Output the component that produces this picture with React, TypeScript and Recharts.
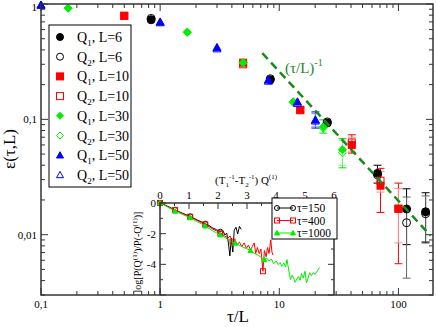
import React from 'react';
import { ScatterChart, Scatter, XAxis, YAxis, ErrorBar } from 'recharts';

const SERIF = '"Liberation Serif", "Times New Roman", serif';
const AXIS = '#333';

// main plot, log-log: [tau/L, eps, errLow, errHigh]
const q1L6 = [[0.84, 0.73], [8.4, 0.22], [25.3, 0.093], [66.7, 0.034, 0.028, 0.04], [117, 0.0167, 0.0082, 0.025], [169, 0.0158, 0.0085, 0.0231]];
const q2L6 = [[0.84, 0.75], [8.4, 0.225], [25.3, 0.095], [66.7, 0.033], [117, 0.0127, 0.0042, 0.0212], [169, 0.0152, 0.0087, 0.0217]];
const q1L10 = [[0.5, 0.79], [4.97, 0.31], [15, 0.121], [40.6, 0.06, 0.051, 0.0735], [70.7, 0.0266, 0.0156, 0.0376], [100, 0.0168, 0.0056, 0.028]];
const q2L10 = [[0.5, 0.79], [4.97, 0.3], [15, 0.12], [40.6, 0.063, 0.053, 0.07], [70.7, 0.0294, 0.0234, 0.0354], [100, 0.0168, 0.0085, 0.0251]];
const q1L30 = [[0.169, 0.92], [1.69, 0.57], [4.97, 0.31], [13.1, 0.142], [23.4, 0.086, 0.076, 0.099], [33.9, 0.0545, 0.038, 0.068]];
const q2L30 = [[0.169, 0.92], [1.69, 0.57], [4.97, 0.31], [13.1, 0.14], [23.4, 0.084], [33.9, 0.0513, 0.04, 0.066]];
const q1L50 = [[0.1, 0.98], [1.0, 0.7], [3.0, 0.42], [8.1, 0.22], [14.2, 0.142], [20.1, 0.099, 0.084, 0.116]];
const q2L50 = [[0.1, 0.98], [1.0, 0.69], [3.0, 0.41], [8.1, 0.215], [14.2, 0.138], [20.1, 0.097, 0.086, 0.112]];
const fitLine = [[7.2, 0.375], [186, 0.0098]];

const xTicks = [0.1, 0.2, 0.3, 0.4, 0.5, 0.6, 0.7, 0.8, 0.9, 1, 2, 3, 4, 5, 6, 7, 8, 9, 10, 20, 30, 40, 50, 60, 70, 80, 90, 100];
const yTicks = [0.003, 0.004, 0.005, 0.006, 0.007, 0.008, 0.009, 0.01, 0.02, 0.03, 0.04, 0.05, 0.06, 0.07, 0.08, 0.09, 0.1, 0.2, 0.3, 0.4, 0.5, 0.6, 0.7, 0.8, 0.9, 1];

// inset: log ratio vs (1/T1 - 1/T2) Q
const tau150 = [[0, 0], [0.13, -0.09], [0.26, -0.21], [0.39, -0.33], [0.52, -0.44], [0.65, -0.56], [0.78, -0.67], [0.91, -0.77], [1.04, -0.87], [1.17, -1.0], [1.3, -1.12], [1.43, -1.23], [1.56, -1.35], [1.69, -1.47], [1.82, -1.63], [1.95, -1.74], [2.08, -1.87], [2.16, -1.78], [2.24, -2.08], [2.3, -1.96], [2.36, -2.62], [2.41, -3.45], [2.46, -2.3], [2.51, -3.2], [2.56, -1.78], [2.62, -1.58], [2.68, -2.02], [2.74, -1.52], [2.8, -1.72]];
const tau150Marks = [[0, 0], [0.52, -0.44], [1.04, -0.87], [1.56, -1.35], [2.08, -1.87]];
const tau400 = [[0, 0], [0.13, -0.1], [0.26, -0.22], [0.39, -0.35], [0.52, -0.46], [0.65, -0.58], [0.78, -0.7], [0.91, -0.8], [1.04, -0.9], [1.17, -1.03], [1.3, -1.16], [1.43, -1.28], [1.56, -1.4], [1.69, -1.55], [1.82, -1.7], [1.95, -1.82], [2.08, -1.98], [2.21, -2.12], [2.34, -2.28], [2.42, -2.15], [2.5, -2.52], [2.58, -2.4], [2.66, -2.7], [2.74, -2.55], [2.82, -2.85], [2.9, -2.6], [2.98, -2.95], [3.05, -2.75], [3.12, -3.05], [3.18, -2.85], [3.25, -2.6], [3.3, -3.3], [3.36, -2.9], [3.42, -3.3], [3.48, -3.0], [3.55, -4.45], [3.6, -3.1], [3.66, -3.5], [3.71, -2.9], [3.76, -3.3], [3.82, -2.4], [3.86, -3.2], [3.9, -3.4]];
const tau400Marks = [[0, 0], [0.52, -0.46], [1.04, -0.9], [1.56, -1.4], [2.08, -1.98], [2.5, -2.52], [3.55, -4.45]];
const tau1000 = [[0, 0], [0.13, -0.12], [0.26, -0.26], [0.39, -0.4], [0.52, -0.53], [0.65, -0.64], [0.78, -0.75], [0.91, -0.86], [1.04, -0.96], [1.17, -1.1], [1.3, -1.23], [1.43, -1.37], [1.56, -1.5], [1.69, -1.66], [1.82, -1.81], [1.95, -1.95], [2.08, -2.08], [2.21, -2.22], [2.34, -2.37], [2.47, -2.5], [2.6, -2.62], [2.73, -2.75], [2.86, -2.88], [2.99, -2.98], [3.12, -3.1], [3.25, -3.28], [3.38, -3.4], [3.51, -3.58], [3.6, -3.7], [3.68, -3.58], [3.76, -3.78], [3.84, -3.66], [3.92, -3.96], [4.0, -3.78], [4.08, -4.02], [4.14, -3.88], [4.2, -4.12], [4.27, -3.92], [4.33, -4.18], [4.38, -3.7], [4.45, -4.5], [4.5, -5.0], [4.56, -4.7], [4.62, -4.95], [4.66, -5.17], [4.72, -4.95], [4.77, -4.8], [4.83, -5.05], [4.88, -4.6], [4.94, -4.9], [5.0, -4.45], [5.05, -5.2], [5.1, -4.95], [5.16, -4.55], [5.22, -4.75], [5.28, -4.55], [5.35, -4.65], [5.42, -4.45], [5.5, -4.2]];
const tau1000Marks = [[0, 0], [0.52, -0.53], [1.04, -0.96], [1.56, -1.5], [2.08, -2.08], [2.6, -2.62], [3.12, -3.1], [3.6, -3.7]];

const insetXTicks = [0, 0.5, 1, 1.5, 2, 2.5, 3, 3.5, 4, 4.5, 5, 5.5, 6];
const insetYTicks = [-6, -5, -4, -3, -2, -1, 0];
const insetYLabels = [0, -2, -4];

const W = 436;
const H = 327;
// plot rectangles (page pixels)
const MP = { left: 41, top: 4, right: 433, bottom: 295 };
const IP = { left: 160, top: 203, right: 334, bottom: 295 };
// axes get 1px of room (recharts skips zero-size axes)
const mainMargin = { top: MP.top, left: MP.left - 1, right: W - MP.right, bottom: H - MP.bottom - 1 };
const insetMargin = { top: IP.top - 1, left: IP.left - 1, right: W - IP.right, bottom: H - IP.bottom };

const toPts = (arr: number[][]) =>
  arr.map(([x, y, lo, hi]) => ({ x, y, err: lo == null ? undefined : [y - lo, hi - y] }));

const isDecade = (v: number) => Math.abs(Math.log10(v) - Math.round(Math.log10(v))) < 1e-9;
const fmtLog = (v: number) => String(v).replace('.', ',');

function drawMarker(kind: string, cx: number, cy: number, s: number, color: string, filled: boolean) {
  const fill = filled ? color : 'none';
  const h = s / 2;
  if (kind === 'circle') return <circle cx={cx} cy={cy} r={h} fill={fill} stroke={color} strokeWidth={1} />;
  if (kind === 'square') return <rect x={cx - h} y={cy - h} width={s} height={s} fill={fill} stroke={color} strokeWidth={1} />;
  if (kind === 'diamond')
    return <polygon points={`${cx},${cy - h} ${cx + h},${cy} ${cx},${cy + h} ${cx - h},${cy}`} fill={fill} stroke={color} strokeWidth={1} />;
  return <polygon points={`${cx},${cy - h} ${cx + h},${cy + h * 0.8} ${cx - h},${cy + h * 0.8}`} fill={fill} stroke={color} strokeWidth={1} />;
}

const shape = (kind: string, color: string, filled: boolean, s: number) => (p: any) =>
  p.cx == null ? <g /> : drawMarker(kind, p.cx, p.cy, s, color, filled);

const noShape = () => <g />;

const MainXTick = (p: any) => {
  const { x, payload } = p;
  const v = payload.value;
  const major = isDecade(v);
  const len = major ? 7 : 4;
  return (
    <g>
      <line x1={x} x2={x} y1={MP.bottom} y2={MP.bottom - len} stroke={AXIS} />
      <line x1={x} x2={x} y1={MP.top} y2={MP.top + len} stroke={AXIS} />
      {major && (
        <text x={x} y={MP.bottom + 13} textAnchor="middle" fontSize={11} fontFamily={SERIF} fill="#000">
          {fmtLog(v)}
        </text>
      )}
    </g>
  );
};

const MainYTick = (p: any) => {
  const { y, payload } = p;
  const v = payload.value;
  const major = isDecade(v);
  const len = major ? 7 : 4;
  return (
    <g>
      <line x1={MP.left} x2={MP.left + len} y1={y} y2={y} stroke={AXIS} />
      <line x1={MP.right} x2={MP.right - len} y1={y} y2={y} stroke={AXIS} />
      {major && (
        <text x={MP.left - 4} y={Math.max(y + 4, 11)} textAnchor="end" fontSize={11} fontFamily={SERIF} fill="#000">
          {fmtLog(v)}
        </text>
      )}
    </g>
  );
};

const InsetXTick = (p: any) => {
  const { x, payload } = p;
  const v = payload.value;
  const major = Number.isInteger(v);
  return (
    <g>
      <line x1={x} x2={x} y1={IP.top} y2={IP.top + (major ? 6 : 3)} stroke={AXIS} />
      {major && (
        <text x={x} y={IP.top - 4} textAnchor="middle" fontSize={11} fontFamily={SERIF} fill="#000">
          {v}
        </text>
      )}
    </g>
  );
};

const InsetYTick = (p: any) => {
  const { y, payload } = p;
  const v = payload.value;
  const len = v % 2 === 0 ? 6 : 3;
  return (
    <g>
      <line x1={IP.left} x2={IP.left + len} y1={y} y2={y} stroke={AXIS} />
      <line x1={IP.right} x2={IP.right - len} y1={y} y2={y} stroke={AXIS} />
      {insetYLabels.includes(v) && (
        <text x={IP.left - 4} y={y + 4} textAnchor="end" fontSize={11} fontFamily={SERIF} fill="#000">
          {v}
        </text>
      )}
    </g>
  );
};

const mainSeries = [
  { data: q1L6, kind: 'circle', color: '#000', filled: true, errColor: '#000', s: 8 },
  { data: q2L6, kind: 'circle', color: '#000', filled: false, errColor: '#666', s: 8 },
  { data: q1L10, kind: 'square', color: '#ff0000', filled: true, errColor: '#ff0000', s: 7 },
  { data: q2L10, kind: 'square', color: '#ff0000', filled: false, errColor: '#ff8c8c', s: 7 },
  { data: q1L30, kind: 'diamond', color: '#00ee00', filled: true, errColor: '#00dd00', s: 8 },
  { data: q2L30, kind: 'diamond', color: '#00ee00', filled: false, errColor: '#80f080', s: 8 },
  { data: q1L50, kind: 'triangle', color: '#0000ff', filled: true, errColor: '#0000ff', s: 8 },
  { data: q2L50, kind: 'triangle', color: '#0000ff', filled: false, errColor: '#8080ff', s: 8 },
];

const legendRows = [
  { q: 1, L: 6, i: 0 },
  { q: 2, L: 6, i: 1 },
  { q: 1, L: 10, i: 2 },
  { q: 2, L: 10, i: 3 },
  { q: 1, L: 30, i: 4 },
  { q: 2, L: 30, i: 5 },
  { q: 1, L: 50, i: 6 },
  { q: 2, L: 50, i: 7 },
];

const insetLegend = [
  { label: '150', color: '#000', kind: 'circle', filled: false },
  { label: '400', color: '#ff0000', kind: 'square', filled: false },
  { label: '1000', color: '#00ee00', kind: 'triangle', filled: true },
];

const FIT_GREEN = '#1a8a1a';

export default function App() {
  const abs: React.CSSProperties = { position: 'absolute', left: 0, top: 0 };
  return (
    <div style={{ position: 'absolute', left: 0, top: 0, width: W, height: H, background: '#fff', fontFamily: SERIF }}>
      <div style={abs}>
        <ScatterChart width={W} height={H} margin={mainMargin}>
          <XAxis
            dataKey="x"
            type="number"
            scale="log"
            domain={[0.1, 195]}
            ticks={xTicks}
            interval={0}
            height={1}
            tickSize={0}
            tickMargin={0}
            tickLine={false}
            axisLine={false}
            tick={(p: any) => <MainXTick {...p} />}
          />
          <YAxis
            dataKey="y"
            type="number"
            scale="log"
            domain={[0.003, 1]}
            ticks={yTicks}
            interval={0}
            width={1}
            tickSize={0}
            tickMargin={0}
            tickLine={false}
            axisLine={false}
            tick={(p: any) => <MainYTick {...p} />}
          />
          {mainSeries.map((s, k) => (
            <Scatter
              key={k}
              data={toPts(s.data)}
              fill={s.color}
              shape={shape(s.kind, s.color, s.filled, s.s)}
              isAnimationActive={false}
            >
              <ErrorBar dataKey="err" direction="y" width={4} stroke={s.errColor} strokeWidth={1} />
            </Scatter>
          ))}
          <Scatter
            data={toPts(fitLine)}
            fill={FIT_GREEN}
            line={{ stroke: FIT_GREEN, strokeWidth: 2.5, strokeDasharray: '8 5' }}
            shape={noShape}
            isAnimationActive={false}
          />
        </ScatterChart>
      </div>

      <div style={abs}>
        <ScatterChart width={W} height={H} margin={insetMargin}>
          <XAxis
            dataKey="x"
            type="number"
            orientation="top"
            domain={[0, 6]}
            ticks={insetXTicks}
            interval={0}
            height={1}
            tickSize={0}
            tickMargin={0}
            tickLine={false}
            axisLine={false}
            tick={(p: any) => <InsetXTick {...p} />}
          />
          <YAxis
            dataKey="y"
            type="number"
            domain={[-6, 0]}
            ticks={insetYTicks}
            interval={0}
            width={1}
            tickSize={0}
            tickMargin={0}
            tickLine={false}
            axisLine={false}
            tick={(p: any) => <InsetYTick {...p} />}
          />
          <Scatter data={toPts(tau150)} fill="#000" line={{ stroke: '#000', strokeWidth: 1 }} shape={noShape} isAnimationActive={false} />
          <Scatter data={toPts(tau150Marks)} fill="#000" shape={shape('circle', '#000', false, 5)} isAnimationActive={false} />
          <Scatter data={toPts(tau400)} fill="#ff0000" line={{ stroke: '#ff0000', strokeWidth: 1 }} shape={noShape} isAnimationActive={false} />
          <Scatter data={toPts(tau400Marks)} fill="#ff0000" shape={shape('square', '#ff0000', false, 5)} isAnimationActive={false} />
          <Scatter data={toPts(tau1000)} fill="#00ee00" line={{ stroke: '#00ee00', strokeWidth: 1 }} shape={noShape} isAnimationActive={false} />
          <Scatter data={toPts(tau1000Marks)} fill="#00ee00" shape={shape('triangle', '#00ee00', true, 5)} isAnimationActive={false} />
        </ScatterChart>
      </div>

      <svg width={W} height={H} style={abs} fontFamily={SERIF}>
        {/* frames */}
        <rect x={MP.left} y={MP.top} width={MP.right - MP.left} height={MP.bottom - MP.top} fill="none" stroke={AXIS} strokeWidth={1.5} />
        <polyline
          points={`${IP.left},${IP.bottom} ${IP.left},${IP.top} ${IP.right},${IP.top} ${IP.right},${IP.bottom}`}
          fill="none"
          stroke={AXIS}
          strokeWidth={1.5}
        />

        {/* axis titles */}
        <text x={238} y={322} textAnchor="middle" fontSize={17}>τ/L</text>
        <text transform="translate(15,149) rotate(-90)" textAnchor="middle" fontSize={17}>ε(τ,L)</text>
        <text x={285} y={73} fontSize={15} fill={FIT_GREEN}>
          (τ/L)<tspan dy={-7} fontSize={10}>-1</tspan>
        </text>

        {/* main legend */}
        <rect x={49} y={25} width={82} height={162} fill="#fff" stroke="#000" strokeWidth={1} />
        {legendRows.map((r) => {
          const s = mainSeries[r.i];
          const cy = 37 + r.i * 19.7;
          return (
            <g key={r.i}>
              {drawMarker(s.kind, 60, cy, 7, s.color, s.filled)}
              <text x={77} y={cy + 5} fontSize={14}>
                Q<tspan fontSize={9} dy={4}>{r.q}</tspan>
                <tspan dy={-4}>, L={r.L}</tspan>
              </text>
            </g>
          );
        })}

        {/* inset titles */}
        <text x={246} y={184} textAnchor="middle" fontSize={11}>
          (T<tspan fontSize={7} dy={3}>1</tspan>
          <tspan fontSize={7} dy={-8}>-1</tspan>
          <tspan dy={5}>-T</tspan>
          <tspan fontSize={7} dy={3}>2</tspan>
          <tspan fontSize={7} dy={-8}>-1</tspan>
          <tspan dy={5}>) Q</tspan>
          <tspan fontSize={7} dy={-5}>(1)</tspan>
        </text>
        <text transform="translate(141,252) rotate(-90)" textAnchor="middle" fontSize={10}>
          log[P(Q<tspan fontSize={7} dy={-4}>(1)</tspan>
          <tspan dy={4}>)/P(-Q</tspan>
          <tspan fontSize={7} dy={-4}>(1)</tspan>
          <tspan dy={4}>)]</tspan>
        </text>

        {/* inset legend */}
        <rect x={272} y={198} width={65} height={41} fill="#fff" stroke="#000" strokeWidth={1} />
        {insetLegend.map((r, i) => {
          const cy = 208 + i * 12.5;
          return (
            <g key={r.label}>
              <line x1={277} x2={293} y1={cy} y2={cy} stroke={r.color} strokeWidth={1} />
              {drawMarker(r.kind, 277, cy, 5, r.color, r.filled)}
              {drawMarker(r.kind, 293, cy, 5, r.color, r.filled)}
              <text x={297} y={cy + 4} fontSize={11.5}>τ={r.label}</text>
            </g>
          );
        })}
      </svg>
    </div>
  );
}
